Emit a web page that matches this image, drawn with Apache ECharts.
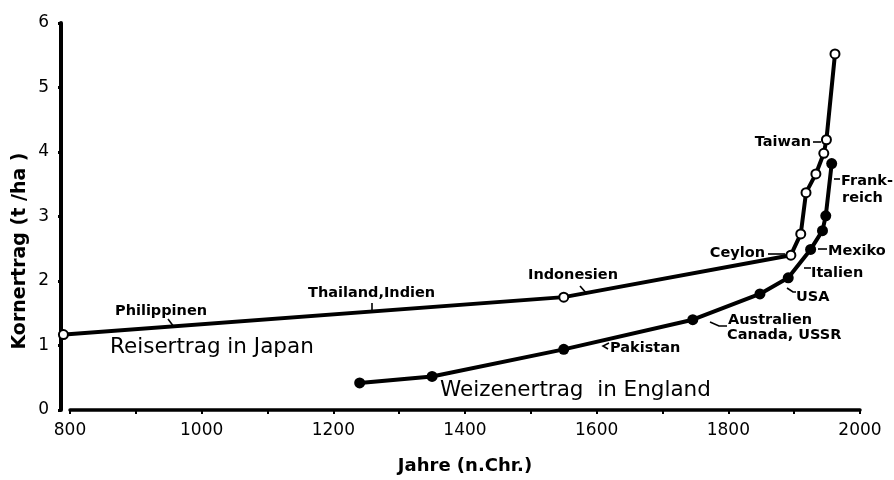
<!DOCTYPE html>
<html>
<head>
<meta charset="utf-8">
<script src="https://cdn.jsdelivr.net/npm/echarts@6/dist/echarts.min.js"></script>
<style>
  html, body { margin: 0; padding: 0; background: #fff; }
  #main { width: 894px; height: 480px; }
</style>
</head>
<body>
<div id="main"></div>
<script>
// Reisertrag in Japan (offene Kreise)
var riceYears = [790, 1550, 1895, 1910, 1918, 1933, 1945, 1949, 1962];
var riceYield = [1.17, 1.75, 2.40, 2.73, 3.37, 3.66, 3.98, 4.19, 5.52];
// Weizenertrag in England (volle Kreise)
var wheatYears = [1240, 1350, 1550, 1746, 1848, 1891, 1925, 1943, 1948, 1957];
var wheatYield = [0.42, 0.52, 0.94, 1.40, 1.80, 2.05, 2.49, 2.78, 3.01, 3.82];

var xLabels = ['800', '1000', '1200', '1400', '1600', '1800', '2000'];

function pairs(xs, ys) {
  var out = [];
  for (var i = 0; i < xs.length; i++) out.push([xs[i], ys[i]]);
  return out;
}

var small = 'bold 14.5px "DejaVu Sans"';
var big = '21.5px "DejaVu Sans"';

// Beschriftungen [text, x, mitte-y, font, ausrichtung]
var notes = [
  ['Philippinen', 115, 311, small, 'left'],
  ['Thailand,Indien', 308, 293, small, 'left'],
  ['Indonesien', 528, 275, small, 'left'],
  ['Pakistan', 610, 348, small, 'left'],
  ['Australien', 728, 320, small, 'left'],
  ['Canada, USSR', 727, 335, small, 'left'],
  ['USA', 796, 297, small, 'left'],
  ['Italien', 811, 273, small, 'left'],
  ['Mexiko', 828, 251, small, 'left'],
  ['Frank-', 841, 181, small, 'left'],
  ['reich', 842, 198, small, 'left'],
  ['Ceylon', 765, 253, small, 'right'],
  ['Taiwan', 811, 142, small, 'right'],
  ['Reisertrag in Japan', 110, 347, big, 'left'],
  ['Weizenertrag  in England', 440, 390, big, 'left']
];
// Hinweisstriche
var leaders = [
  [[168, 319], [174, 327]],
  [[372, 303], [372, 312]],
  [[580, 286], [587, 294]],
  [[609, 343], [603, 346], [608, 349]],
  [[710, 322], [719, 326], [727, 326]],
  [[787, 288], [793, 292], [796, 292]],
  [[804, 268], [811, 268]],
  [[818, 249], [827, 249]],
  [[834, 179], [840, 179]],
  [[768, 254], [785, 254]],
  [[813, 142], [821, 142]]
];

var graphics = [];
notes.forEach(function (n) {
  graphics.push({
    type: 'text', x: n[1], y: n[2], z: 10,
    style: { text: n[0], font: n[3], fill: '#000', align: n[4], verticalAlign: 'middle' }
  });
});
leaders.forEach(function (l) {
  graphics.push({
    type: 'polyline', z: 10,
    shape: { points: l },
    style: { stroke: '#000', lineWidth: 1.6, fill: null }
  });
});
graphics.push({
  type: 'text', x: 20, y: 251, rotation: Math.PI / 2,
  style: { text: 'Kornertrag (t /ha )', font: 'bold 19px "DejaVu Sans"', fill: '#000', align: 'center', verticalAlign: 'middle' }
});

var chart = echarts.init(document.getElementById('main'));
chart.setOption({
  animation: false,
  backgroundColor: '#fff',
  grid: { left: 70, right: 34, top: 23, bottom: 66 },
  xAxis: {
    type: 'value', min: 800, max: 2000, interval: 100,
    name: 'Jahre (n.Chr.)', nameLocation: 'middle', nameGap: 47,
    nameTextStyle: { fontFamily: 'DejaVu Sans', fontWeight: 'bold', fontSize: 18, color: '#000' },
    axisLine: { lineStyle: { color: '#000', width: 3.5 } },
    axisTick: { show: true, length: 4, lineStyle: { color: '#000', width: 2 } },
    axisLabel: {
      margin: 12, color: '#000', fontFamily: 'DejaVu Sans', fontSize: 17,
      formatter: function (v) { var s = String(v); return xLabels.indexOf(s) >= 0 ? s : ''; }
    },
    splitLine: { show: false }
  },
  yAxis: {
    type: 'value', min: 0, max: 6, interval: 1, offset: 9,
    axisLine: { show: true, lineStyle: { color: '#000', width: 4 } },
    axisTick: { show: true, length: 3, lineStyle: { color: '#000', width: 3 } },
    axisLabel: { margin: 12, color: '#000', fontFamily: 'DejaVu Sans', fontSize: 17 },
    splitLine: { show: false }
  },
  series: [
    {
      name: 'Reisertrag in Japan', type: 'line', clip: false,
      data: pairs(riceYears, riceYield),
      lineStyle: { color: '#000', width: 4 },
      symbol: 'circle', symbolSize: 9,
      itemStyle: { color: '#fff', borderColor: '#000', borderWidth: 2 }
    },
    {
      name: 'Weizenertrag in England', type: 'line', clip: false,
      data: pairs(wheatYears, wheatYield),
      lineStyle: { color: '#000', width: 4 },
      symbol: 'circle', symbolSize: 11,
      itemStyle: { color: '#000', borderColor: '#000', borderWidth: 0 }
    }
  ],
  graphic: graphics
});
</script>
</body>
</html>
